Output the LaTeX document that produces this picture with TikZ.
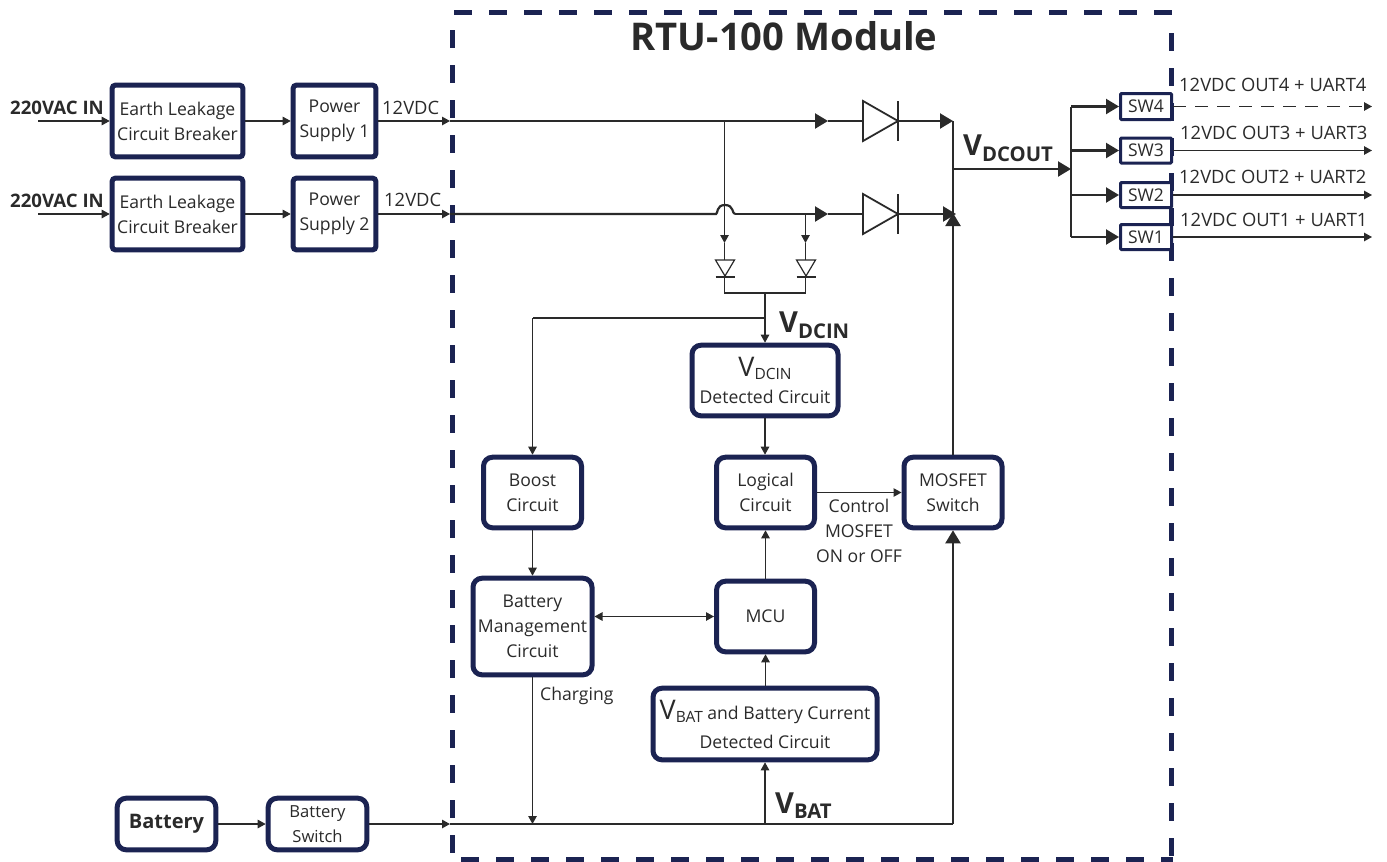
\documentclass[tikz,border=0pt]{standalone}
\usepackage{fontspec}
\setmainfont{Open Sans}
\usetikzlibrary{arrows.meta}
\definecolor{navy}{HTML}{1B2352}
\definecolor{ink}{HTML}{2A2A2A}
\newcommand{\VsubBox}[1]{{\fontsize{27}{27}\selectfont V}\raisebox{-3pt}{\fontsize{15.5}{16}\selectfont #1}}
\tikzset{
  box/.style={draw=navy,line width=5pt,rounded corners=3pt,fill=white,align=center,text=ink,font=\fontsize{17.6}{25}\selectfont,inner sep=0pt},
  softbox/.style={box,rounded corners=9pt},
  smallbox/.style={draw=navy,line width=3pt,rounded corners=1pt,fill=white,text=ink,font=\fontsize{17.5}{20}\selectfont,inner sep=0pt},
  lab/.style={text=ink,font=\fontsize{17.6}{25}\selectfont,inner sep=0pt,align=center},
  outlab/.style={text=ink,font=\fontsize{18.4}{22}\selectfont,inner sep=0pt},
  blab/.style={text=ink,font=\fontsize{18.6}{22}\selectfont\bfseries,inner sep=0pt},
  vlab/.style={text=ink,font=\fontsize{29}{30}\selectfont\bfseries,inner sep=0pt},
  wire/.style={draw=ink,line width=1.2pt},
  thick wire/.style={draw=ink,line width=2.2pt},
  arr/.style={wire,-{Triangle[length=8pt,width=8.5pt]}},
  barr/.style={thick wire,-{Triangle[length=13pt,width=15pt]}},
  diode/.style={draw=ink,line width=1.8pt,fill=white,line join=miter},
  framedash/.style={navy,line width=5pt,dash pattern=on 17.5pt off 17.5pt},
}
\begin{document}
\begin{tikzpicture}[x=1pt,y=-1pt]
\useasboundingbox (0,0) rectangle (1387,862);
% module frame
\draw[framedash] (454,12) -- (1173,12);
\draw[framedash] (452,30) -- (452,856);
\draw[framedash] (1171,33) -- (1171,856);
\draw[framedash] (461,859) -- (1173,859);
\node[text=ink,font=\fontsize{38.2}{42}\selectfont\bfseries,inner sep=0pt] (title) at (784,36) {RTU-100 Module};
% boxes
\node[box,minimum width=130.6pt,minimum height=71.6pt] (el1) at (177.5,121) {Earth Leakage\\Circuit Breaker};
\node[box,minimum width=82.6pt,minimum height=71.6pt] (ps1) at (334.5,121) {Power\\Supply 1};
\node[box,minimum width=130.6pt,minimum height=71.6pt] (el2) at (177.5,214) {Earth Leakage\\Circuit Breaker};
\node[box,minimum width=82.6pt,minimum height=71.6pt] (ps2) at (334.5,214) {Power\\Supply 2};
\node[softbox,minimum width=146pt,minimum height=70.6pt] (vin) at (765,380.5) {\VsubBox{DCIN}\\[2pt]Detected Circuit};
\node[softbox,minimum width=98pt,minimum height=70.6pt] (logic) at (765.5,492.5) {Logical\\Circuit};
\node[softbox,minimum width=98pt,minimum height=70.6pt] (boost) at (532.5,492.5) {Boost\\Circuit};
\node[softbox,minimum width=98pt,minimum height=70.6pt] (mos) at (953,492.5) {MOSFET\\Switch};
\node[softbox,minimum width=119pt,minimum height=96.6pt] (bmc) at (532.5,626.5) {Battery\\Management\\Circuit};
\node[softbox,minimum width=98pt,minimum height=70.6pt] (mcu) at (765.5,616.5) {MCU};
\node[softbox,minimum width=224pt,minimum height=71.6pt] (vbat) at (765,724) {\VsubBox{BAT} and Battery Current\\[4pt]Detected Circuit};
\node[softbox,minimum width=98.6pt,minimum height=51.6pt,font=\fontsize{20}{24}\selectfont\bfseries] (batt) at (166.5,824) {Battery};
\node[softbox,minimum width=98.6pt,minimum height=51.6pt,font=\fontsize{16.6}{25}\selectfont] (bsw) at (317.5,824) {Battery\\Switch};
\node[smallbox,minimum width=51pt,minimum height=26pt] (sw4) at (1146,106.5) {SW4};
\node[smallbox,minimum width=51pt,minimum height=25pt] (sw3) at (1146,150.5) {SW3};
\node[smallbox,minimum width=51pt,minimum height=25pt] (sw2) at (1146,195) {SW2};
\node[smallbox,minimum width=51pt,minimum height=25pt] (sw1) at (1146,237) {SW1};
% helpers
\coordinate (in1) at (38,121);
\coordinate (in2) at (38,214);
\coordinate (mod1) at (450,121);
\coordinate (mod2) at (450,214);
\coordinate (a1) at (828,121);
\coordinate (a2) at (828,214);
\coordinate (d1l) at (863,121);
\coordinate (d1r) at (898,121);
\coordinate (d2l) at (863,214);
\coordinate (d2r) at (898,214);
\coordinate (j1) at (953,121);
\coordinate (j2) at (956,214);
\coordinate (jo) at (953,169);
\coordinate (fork) at (1071,169);
\coordinate (tapa) at (724.5,121);
\coordinate (tapb) at (805.5,214);
\coordinate (sda) at (724.5,243);
\coordinate (sdb) at (805.5,243);
\coordinate (sdc) at (724.5,293);
\coordinate (sdd) at (805.5,293);
\coordinate (mid) at (765,293);
\coordinate (vt) at (765,318);
\coordinate (vl) at (532.5,318);
\coordinate (rail0) at (450,824);
\coordinate (railc) at (532.5,824);
\coordinate (railm) at (765,824);
\coordinate (railr) at (953,824);
\coordinate (o4) at (1372,106.5);
\coordinate (o3) at (1372,150.5);
\coordinate (o2) at (1372,195);
\coordinate (o1) at (1372,237);
% left inputs
\draw[arr] (in1) -- (el1.west);
\draw[arr] (in2) -- (el2.west);
\draw[arr] (el1.east) -- (ps1.west);
\draw[arr] (el2.east) -- (ps2.west);
\draw[arr] (ps1.east) -- (mod1);
\draw[arr] (ps2.east) -- (mod2);
% main rails
\draw[barr] (mod1) -- (a1);
\draw[thick wire] (mod2) -- (716,214) .. controls (718,214) and (716,205) .. (725,205) .. controls (734,205) and (732,214) .. (735,214);
\draw[barr] (735,214) -- (a2);
\draw[thick wire] (a1) -- (d1l);
\draw[thick wire] (a2) -- (d2l);
\draw[barr] (d1r) -- (j1);
\draw[barr] (d2r) -- (j2);
% diodes
\draw[diode] (d1l) ++(0,-20) -- ++(0,40) -- (d1r) -- cycle;
\draw[diode] (898,101) -- (898,141);
\draw[diode] (d2l) ++(0,-20) -- ++(0,40) -- (d2r) -- cycle;
\draw[diode] (898,194) -- (898,234);
% output bus
\draw[thick wire] (j1) -- (953,214);
\draw[barr] (mos.north) -- (953,213);
\draw[barr] (jo) -- (fork);
\draw[thick wire] (1071,106.5) -- (1071,237);
\draw[barr] (1071,106.5) -- (sw4.west);
\draw[barr] (1071,150.5) -- (sw3.west);
\draw[barr] (1071,195) -- (sw2.west);
\draw[barr] (1071,237) -- (sw1.west);
\draw[arr,dash pattern=on 13pt off 9pt] (sw4.east) -- (o4);
\draw[arr] (sw3.east) -- (o3);
\draw[arr] (sw2.east) -- (o2);
\draw[arr] (sw1.east) -- (o1);
% tap diodes
\draw[arr] (tapa) -- (sda);
\draw[arr] (tapb) -- (sdb);
\draw[wire] (sda) -- (724.5,260) (sdb) -- (805.5,260);
\draw[diode,line width=1.2pt] (715.5,260) -- (734.5,260) -- (725,276) -- cycle;
\draw[diode,line width=1.2pt] (796.5,260) -- (815.5,260) -- (806,276) -- cycle;
\draw[wire] (715.5,277) -- (734.5,277) (796.5,277) -- (815.5,277);
\draw[wire] (724.5,277) -- (sdc) -- (sdd) -- (805.5,277);
\draw[arr] (mid) -- (vin.north);
\draw[wire] (vt) -- (vl);
\draw[arr] (vl) -- (boost.north);
% inner links
\draw[arr] (vin.south) -- (vin.south|-logic.north);
\draw[arr] (logic.east) -- (mos.west);
\draw[arr] (boost.south) -- (boost.south|-bmc.north);
\draw[wire,{Triangle[length=8pt,width=8.5pt]}-{Triangle[length=8pt,width=8.5pt]}] (bmc.east|-mcu.west) -- (mcu.west);
\draw[arr] (mcu.north) -- (logic.south);
\draw[arr] (vbat.north-|mcu.south) -- (mcu.south);
% bottom
\draw[arr] (batt.east) -- (bsw.west);
\draw[arr] (bsw.east) -- (rail0);
\draw[thick wire,line join=miter] (rail0) -- (railr);
\draw[barr] (railr) -- (mos.south);
\draw[arr] (railm) -- (vbat.south);
\draw[arr] (bmc.south-|railc) -- (railc);
% labels
\node[blab,anchor=base west] (l1) at (10,114) {220VAC IN};
\node[blab,anchor=base west] (l2) at (10,207) {220VAC IN};
\node[outlab,anchor=base west] (l3) at (382,114) {12VDC};
\node[outlab,anchor=base west] (l4) at (384,206) {12VDC};
\node[vlab,anchor=base west] (l5) at (963,155) {V\textsubscript{DCOUT}};
\node[vlab,anchor=base west] (l6) at (779,332) {V\textsubscript{DCIN}};
\node[vlab,anchor=base west] (l7) at (775,813) {V\textsubscript{BAT}};
\node[lab,anchor=west] (l8) at (540,696) {Charging};
\node[lab] (l9) at (859,531) {Control\\MOSFET\\ON or OFF};
\node[outlab,anchor=west] (o4t) at (1179,85) {12VDC OUT4 + UART4};
\node[outlab,anchor=west] (o3t) at (1180,133) {12VDC OUT3 + UART3};
\node[outlab,anchor=west] (o2t) at (1179,177) {12VDC OUT2 + UART2};
\node[outlab,anchor=west] (o1t) at (1180,220) {12VDC OUT1 + UART1};
\end{tikzpicture}
\end{document}
